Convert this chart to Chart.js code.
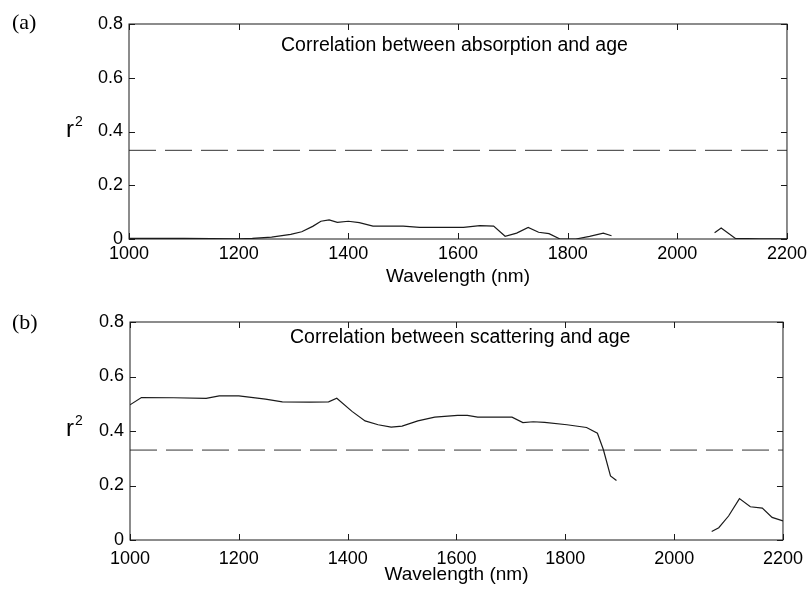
<!DOCTYPE html>
<html>
<head>
<meta charset="utf-8">
<script src="https://cdn.jsdelivr.net/npm/chart.js@4.4.1/dist/chart.umd.min.js"></script>
<style>
  html, body { margin: 0; padding: 0; background: #fff; }
  #wrap { position: relative; width: 811px; height: 593px; }
  .panel { position: absolute; left: 0; width: 811px; }
  #panelA { top: 0; height: 296px; }
  #panelB { top: 296px; height: 297px; }
</style>
</head>
<body>
<div id="wrap">
  <div class="panel" id="panelA"><canvas id="chartA"></canvas></div>
  <div class="panel" id="panelB"><canvas id="chartB"></canvas></div>
</div>
<script>
// wavelength axis (nm) and r^2 axis
const xTicks = [1000, 1200, 1400, 1600, 1800, 2000, 2200];
const yTicks = [0, 0.2, 0.4, 0.6, 0.8];
const threshold = 0.33;

// (a) absorption vs age
const absWavelength = [1000, 1100, 1200, 1225, 1260, 1295, 1315, 1335, 1350, 1365, 1380, 1400, 1420, 1445,
  1500, 1530, 1560, 1610, 1640, 1665, 1686, 1707, 1728, 1747, 1766, 1786, 1815, 1840, 1865, 1880,
  1890, 2068, 2080, 2106, 2150, 2200];
const absR2 = [0.002, 0.002, 0.001, 0.002, 0.007, 0.017, 0.027, 0.047, 0.066, 0.071, 0.062, 0.066, 0.061, 0.048,
  0.048, 0.043, 0.043, 0.043, 0.05, 0.048, 0.01, 0.022, 0.043, 0.025, 0.02, 0.0, 0.0, 0.01, 0.022, 0.012,
  null, 0.023, 0.041, 0.002, 0.001, 0.001];

// (b) scattering vs age
const scatWavelength = [1000, 1021, 1080, 1140, 1164, 1200, 1249, 1280, 1330, 1365, 1380, 1408, 1432, 1456,
  1480, 1500, 1529, 1560, 1602, 1620, 1639, 1702, 1722, 1741, 1762, 1803, 1839, 1859, 1870, 1883, 1894,
  1950, 2069, 2082, 2100, 2120, 2140, 2162, 2180, 2200];
const scatR2 = [0.496, 0.523, 0.522, 0.52, 0.529, 0.529, 0.517, 0.507, 0.506, 0.507, 0.52, 0.472, 0.437, 0.423,
  0.414, 0.418, 0.437, 0.451, 0.457, 0.457, 0.451, 0.451, 0.431, 0.434, 0.432, 0.423, 0.413, 0.392, 0.331, 0.235, 0.218,
  null, 0.031, 0.045, 0.088, 0.152, 0.122, 0.117, 0.083, 0.07];

const SANS = "'Liberation Sans', Arial, sans-serif";
const SERIF = "'Liberation Serif', 'Times New Roman', serif";
const INK = "#1a1a1a";

function toPoints(xs, ys) {
  return xs.map((x, i) => ({ x: x, y: ys[i] }));
}

// frame, inward ticks on all sides, and the loose labels
const framePlugin = {
  id: "frame",
  afterDraw(chart, args, opts) {
    const { ctx, chartArea: a, scales } = chart;
    ctx.save();
    ctx.strokeStyle = INK;
    ctx.lineWidth = 1;
    ctx.strokeRect(a.left, a.top, a.right - a.left, a.bottom - a.top);
    const tl = 6;
    ctx.beginPath();
    for (const v of xTicks) {
      const px = Math.round(scales.x.getPixelForValue(v)) + 0.5;
      ctx.moveTo(px, a.bottom); ctx.lineTo(px, a.bottom - tl);
      ctx.moveTo(px, a.top); ctx.lineTo(px, a.top + tl);
    }
    for (const v of yTicks) {
      const py = Math.round(scales.y.getPixelForValue(v)) + 0.5;
      ctx.moveTo(a.left, py); ctx.lineTo(a.left + tl, py);
      ctx.moveTo(a.right, py); ctx.lineTo(a.right - tl, py);
    }
    ctx.stroke();

    ctx.fillStyle = "#000";
    ctx.textBaseline = "alphabetic";
    ctx.textAlign = "left";
    ctx.font = "22px " + SERIF;
    ctx.fillText(opts.tag, 12, opts.tagY);
    ctx.font = "19.5px " + SANS;
    ctx.fillText(opts.note, opts.noteX, opts.noteY);
    ctx.font = "24px " + SANS;
    ctx.fillText("r", 66, opts.rY);
    ctx.font = "14px " + SANS;
    ctx.fillText("2", 75, opts.rY - 11);
    ctx.restore();
  },
};

function makeChart(canvasId, xs, ys, p) {
  const ctx = document.getElementById(canvasId).getContext("2d");
  return new Chart(ctx, {
    type: "line",
    data: {
      datasets: [
        {
          data: toPoints(xs, ys),
          borderColor: INK,
          borderWidth: 1.2,
          pointRadius: 0,
          tension: 0,
          spanGaps: false,
        },
        {
          data: toPoints([1000, 2200], [threshold, threshold]),
          borderColor: "#333",
          borderWidth: 1,
          borderDash: [27, 9],
          pointRadius: 0,
        },
      ],
    },
    options: {
      responsive: true,
      maintainAspectRatio: false,
      animation: false,
      events: [],
      layout: { padding: { top: p.top, right: 23, left: 0, bottom: 0 } },
      plugins: {
        legend: { display: false },
        tooltip: { enabled: false },
        frame: p.labels,
      },
      scales: {
        x: {
          type: "linear",
          min: 1000,
          max: 2200,
          grid: { display: false, drawTicks: false },
          border: { display: false },
          ticks: {
            stepSize: 200,
            color: "#000",
            padding: p.xPad,
            maxRotation: 0,
            font: { family: SANS, size: 18 },
            callback: (v) => String(v),
          },
          title: {
            display: true,
            text: "Wavelength (nm)",
            color: "#000",
            font: { family: SANS, size: 19 },
            padding: { top: 0, bottom: p.titlePad },
          },
          afterFit: (s) => { s.height = p.xHeight; },
        },
        y: {
          min: 0,
          max: 0.8,
          grid: { display: false, drawTicks: false },
          border: { display: false },
          ticks: {
            stepSize: 0.2,
            color: "#000",
            padding: 6,
            font: { family: SANS, size: 18 },
            callback: (v) => String(Math.round(v * 10) / 10),
          },
          afterFit: (s) => { s.width = p.yWidth; },
        },
      },
    },
    plugins: [framePlugin],
  });
}

makeChart("chartA", absWavelength, absR2, {
  top: 24, xHeight: 57, yWidth: 129, xPad: 4, titlePad: 8,
  labels: { tag: "(a)", tagY: 29, note: "Correlation between absorption and age", noteX: 281, noteY: 51, rY: 137 },
});
makeChart("chartB", scatWavelength, scatR2, {
  top: 26, xHeight: 53, yWidth: 130, xPad: 8, titlePad: 7,
  labels: { tag: "(b)", tagY: 33, note: "Correlation between scattering and age", noteX: 290, noteY: 47, rY: 140 },
});
</script>
</body>
</html>
